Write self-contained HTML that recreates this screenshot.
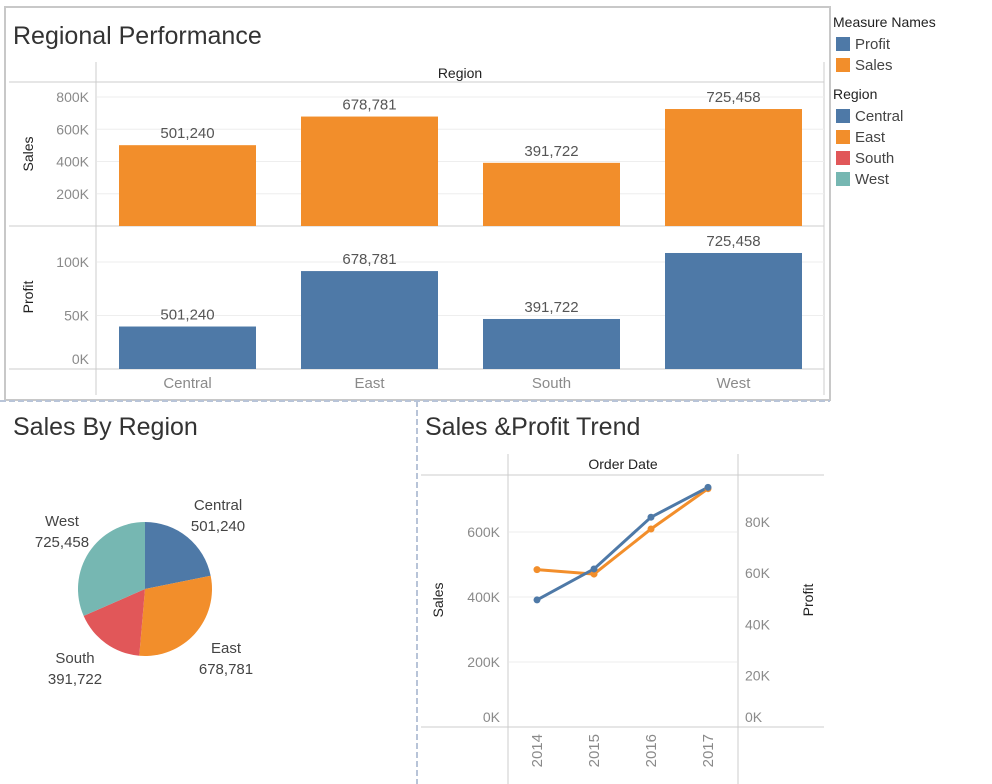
<!DOCTYPE html>
<html><head><meta charset="utf-8">
<style>
html,body{margin:0;padding:0;background:#fff;width:992px;height:784px;overflow:hidden}
svg{display:block;font-family:"Liberation Sans",sans-serif}
.tick{fill:#8a8a8a;font-size:14px}
.val{fill:#555;font-size:15px}
.ttl{fill:#333;font-size:25px}
.hdr{fill:#222;font-size:14px}
.leg{fill:#444;font-size:15px}
</style></head>
<body>
<svg id="c" width="992" height="784">
<!-- top panel frame -->
<rect x="5" y="7" width="825" height="393" fill="none" stroke="#c8c8c8" stroke-width="2"/>
<text x="13" y="44" class="ttl">Regional Performance</text>
<line x1="9" y1="82" x2="824" y2="82" stroke="#ccc"/>
<line x1="96" y1="62" x2="96" y2="395" stroke="#ccc"/>
<line x1="824" y1="62" x2="824" y2="395" stroke="#ccc"/>
<line x1="9" y1="226" x2="824" y2="226" stroke="#ccc"/>
<line x1="9" y1="369" x2="824" y2="369" stroke="#ccc"/>
<text x="460" y="78" class="hdr" text-anchor="middle">Region</text>
<text transform="translate(33,154) rotate(-90)" class="hdr" text-anchor="middle">Sales</text>
<text transform="translate(33,297) rotate(-90)" class="hdr" text-anchor="middle">Profit</text>
<g id="bars"></g>
<!-- legend -->
<line x1="830" y1="7" x2="830" y2="400" stroke="#c8c8c8" stroke-width="1"/>
<g id="legend"></g>
<!-- separators -->
<line x1="0" y1="401" x2="830" y2="401" stroke="#b8c4d8" stroke-width="2" stroke-dasharray="6,3"/>
<line x1="417" y1="401" x2="417" y2="784" stroke="#b8c4d8" stroke-width="2" stroke-dasharray="6,3"/>
<text x="13" y="435" class="ttl">Sales By Region</text>
<g id="pie"></g>
<text x="425" y="435" class="ttl">Sales &amp;Profit Trend</text>
<line x1="421" y1="475" x2="824" y2="475" stroke="#ccc"/>
<line x1="421" y1="727" x2="824" y2="727" stroke="#ccc"/>
<line x1="508" y1="454" x2="508" y2="784" stroke="#ccc"/>
<line x1="738" y1="454" x2="738" y2="784" stroke="#ccc"/>
<text x="623" y="469" class="hdr" text-anchor="middle">Order Date</text>
<text transform="translate(443,600) rotate(-90)" class="hdr" text-anchor="middle">Sales</text>
<text transform="translate(813,600) rotate(-90)" class="hdr" text-anchor="middle">Profit</text>
<g id="trend"></g>
</svg>
<script>
const regions = ["Central","East","South","West"];
const regionSales = [501240, 678781, 391722, 725458];
const regionProfit = [39706, 91523, 46749, 108418];
const salesTicks = [200000, 400000, 600000, 800000];
const salesTickLabels = ["200K","400K","600K","800K"];
const profitTicks = [0, 50000, 100000];
const profitTickLabels = ["0K","50K","100K"];
const years = ["2014","2015","2016","2017"];
const yearSales = [484247, 470533, 609206, 733215];
const yearProfit = [49544, 61619, 81795, 93439];
const trendSalesTicks = [0, 200000, 400000, 600000];
const trendSalesLabels = ["0K","200K","400K","600K"];
const trendProfitTicks = [0, 20000, 40000, 60000, 80000];
const trendProfitLabels = ["0K","20K","40K","60K","80K"];

const NS = "http://www.w3.org/2000/svg";
const COL = {blue:"#4e79a7", orange:"#f28e2b", red:"#e15759", teal:"#76b7b2"};
const regionColors = [COL.blue, COL.orange, COL.red, COL.teal];
function mk(tag, attrs, parent, text){
  const e = document.createElementNS(NS, tag);
  for (const k in attrs) e.setAttribute(k, attrs[k]);
  if (text !== undefined) e.textContent = text;
  parent.appendChild(e);
  return e;
}
const fmt = v => v.toLocaleString("en-US");

// ---- bar chart ----
const bars = document.getElementById("bars");
const xBand = i => 119 + i * 182;
const bw = 137;
const ySales = v => 226 - v / 800000 * 129;
const yProfit = v => 369 - v / 50000 * 53.5;
salesTicks.forEach((t, i) => {
  const g = mk("line", {x1:97, x2:824, y1:ySales(t), y2:ySales(t), stroke:"#eee"}, bars);
  
  
  const l = mk("text", {x:89, y:ySales(t)+5, class:"tick", "text-anchor":"end"}, bars, salesTickLabels[i]);
  
  
});
profitTicks.forEach((t, i) => {
  if (t > 0) {
    const g = mk("line", {x1:97, x2:824, y1:yProfit(t), y2:yProfit(t), stroke:"#eee"}, bars);
    
    
  }
  const l = mk("text", {x:89, y:(t===0?yProfit(t)-5:yProfit(t)+5), class:"tick", "text-anchor":"end"}, bars, profitTickLabels[i]);
  
  
});
regions.forEach((r, i) => {
  const x = xBand(i);
  const sb = mk("rect", {x:x, y:ySales(regionSales[i]), width:bw, height:226-ySales(regionSales[i]), fill:COL.orange}, bars);
  
  
  const sl = mk("text", {x:x+bw/2, y:ySales(regionSales[i])-7, class:"val", "text-anchor":"middle"}, bars, fmt(regionSales[i]));
  
  
  const pb = mk("rect", {x:x, y:yProfit(regionProfit[i]), width:bw, height:369-yProfit(regionProfit[i]), fill:COL.blue}, bars);
  
  
  const pl = mk("text", {x:x+bw/2, y:yProfit(regionProfit[i])-7, class:"val", "text-anchor":"middle"}, bars, fmt(regionSales[i]));
  
  
  const xl = mk("text", {x:x+bw/2, y:388, class:"tick", "text-anchor":"middle", style:"font-size:15px"}, bars, r);
  
  
});

// ---- legend ----
const leg = document.getElementById("legend");
const legendItems = [
  {t:"Measure Names", y:22, head:true},
  {t:"Profit", y:44, c:COL.blue},
  {t:"Sales", y:65, c:COL.orange},
  {t:"Region", y:94, head:true},
  {t:"Central", y:116, c:COL.blue},
  {t:"East", y:137, c:COL.orange},
  {t:"South", y:158, c:COL.red},
  {t:"West", y:179, c:COL.teal}
];
legendItems.forEach(it => {
  if (it.head) {
    const h = mk("text", {x:833, y:it.y+5, style:"font-size:14px;fill:#222"}, leg, it.t);
    
    
  } else {
    const s = mk("rect", {x:836, y:it.y-7, width:14, height:14, fill:it.c}, leg);
    
    
    const t = mk("text", {x:855, y:it.y+5, class:"leg"}, leg, it.t);
    
    
  }
});

// ---- pie ----
const pie = document.getElementById("pie");
const cx = 145, cy = 589, R = 67;
const total = regionSales.reduce((a,b)=>a+b,0);
let ang = 0;
const labelPos = [[218,510,"middle"],[226,653,"middle"],[75,663,"middle"],[62,526,"middle"]];
regions.forEach((r, i) => {
  const a0 = ang, a1 = ang + regionSales[i] / total * Math.PI * 2;
  ang = a1;
  const p = (a) => [cx + R*Math.sin(a), cy - R*Math.cos(a)];
  const [x0,y0] = p(a0), [x1,y1] = p(a1);
  const large = (a1-a0) > Math.PI ? 1 : 0;
  const s = mk("path", {d:`M${cx},${cy} L${x0},${y0} A${R},${R} 0 ${large} 1 ${x1},${y1} Z`, fill:regionColors[i]}, pie);
  
  
  const lp = labelPos[i];
  const t1 = mk("text", {x:lp[0], y:lp[1], "text-anchor":lp[2], class:"val", style:"fill:#444"}, pie, r);
  
  
  const t2 = mk("text", {x:lp[0], y:lp[1]+21, "text-anchor":lp[2], class:"val", style:"fill:#444"}, pie, fmt(regionSales[i]));
  
  
});

// ---- trend ----
const tr = document.getElementById("trend");
const xYear = i => 537 + i * 57;
const yTS = v => 727 - v / 200000 * 65;
const yTP = v => 727 - v / 20000 * 51.3;
trendSalesTicks.forEach((t, i) => {
  if (t > 0) {
    const g = mk("line", {x1:509, x2:737, y1:yTS(t), y2:yTS(t), stroke:"#eee"}, tr);
    
    
  }
  const l = mk("text", {x:500, y:(t===0?yTS(t)-5:yTS(t)+5), class:"tick", "text-anchor":"end"}, tr, trendSalesLabels[i]);
  
  
});
trendProfitTicks.forEach((t, i) => {
  const l = mk("text", {x:745, y:(t===0?yTP(t)-5:yTP(t)+5), class:"tick"}, tr, trendProfitLabels[i]);
  
  
});
const sp = yearSales.map((v,i)=>`${xYear(i)},${yTS(v)}`).join(" ");
const sl = mk("polyline", {points:sp, fill:"none", stroke:COL.orange, "stroke-width":3}, tr);


const pp = yearProfit.map((v,i)=>`${xYear(i)},${yTP(v)}`).join(" ");
const pl = mk("polyline", {points:pp, fill:"none", stroke:COL.blue, "stroke-width":3}, tr);


years.forEach((y, i) => {
  const a = mk("circle", {cx:xYear(i), cy:yTS(yearSales[i]), r:3.5, fill:COL.orange}, tr);
  
  
  const b = mk("circle", {cx:xYear(i), cy:yTP(yearProfit[i]), r:3.5, fill:COL.blue}, tr);
  
  
  const t = mk("text", {transform:`translate(${xYear(i)+5},734) rotate(-90)`, class:"tick", "text-anchor":"end", style:"font-size:15px"}, tr, y);
  
  
});
</script>
</body></html>
